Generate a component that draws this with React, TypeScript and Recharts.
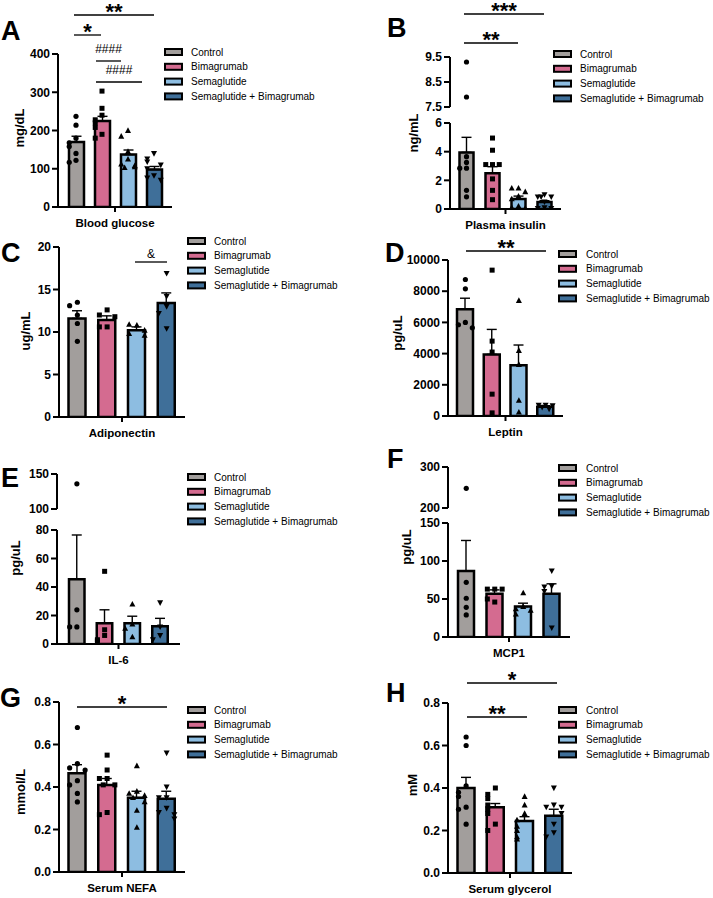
import React from "react";
import { ComposedChart, Bar, Scatter, XAxis, YAxis, ErrorBar, Cell } from "recharts";

const groups = ["Control", "Bimagrumab", "Semaglutide", "Semaglutide + Bimagrumab"];
const colors = ["#a29e9c", "#d46b90", "#8dbde1", "#3f6f99"];

// A - blood glucose (mg/dL)
const glucoseMean = [170, 225, 137, 98];
const glucoseSem = [15, 12, 12, 8];
const glucosePts = [
  [237, 214, 180, 168, 158, 140, 122, 117],
  [303, 258, 240, 228, 220, 208, 190, 180],
  [200, 185, 145, 125, 112, 108, 105, 103],
  [140, 126, 118, 110, 100, 82, 76, 70],
];

// B - plasma insulin (ng/mL)
const insulinMean = [3.95, 2.5, 0.7, 0.48];
const insulinSem = [1.05, 0.45, 0.2, 0.1];
const insulinPts = [
  [9.3, 7.9, 3.65, 3.25, 2.85, 2.85, 1.3, 0.85],
  [4.95, 4.1, 3.1, 3.1, 3.1, 2.1, 1.3, 0.65],
  [1.45, 1.45, 1.2, 0.9, 0.7, 0.2, 0.1, 0.05],
  [1.0, 0.85, 0.85, 0.85, 0.5, 0.1, 0.05, 0.05],
];

// C - adiponectin (ug/mL)
const adipoMean = [11.6, 11.4, 10.2, 13.4];
const adipoSem = [0.9, 0.5, 0.4, 1.2];
const adipoPts = [
  [13.5, 13.1, 12.0, 11.0, 8.9],
  [12.6, 12.0, 11.8, 10.6, 10.6],
  [10.8, 10.9, 10.2, 9.8, 9.6],
  [16.9, 14.2, 13.0, 12.2, 10.4],
];

// D - leptin (pg/uL)
const leptinMean = [6850, 3950, 3250, 600];
const leptinSem = [700, 1600, 1300, 60];
const leptinPts = [
  [8750, 8150, 6000, 5850, 5650],
  [9350, 4800, 4100, 1400, 200],
  [7400, 4200, 3300, 1000, 250],
  [700, 690, 660, 560, 450],
];

// E - IL-6 (pg/uL)
const il6Mean = [45.5, 14.5, 14.5, 12.5];
const il6Sem = [31, 9.5, 5, 5.5];
const il6Pts = [
  [136, 24, 12, 12],
  [51, 10, 6, 3, 2],
  [28, 14, 11, 5],
  [29, 12, 6, 3],
];

// F - MCP1 (pg/uL)
const mcpMean = [87, 57, 40, 57];
const mcpSem = [40, 5, 4.5, 13];
const mcpPts = [
  [248, 72, 51, 39, 29],
  [63, 63, 63, 46, 50],
  [58, 40, 37, 35, 30],
  [87, 67, 66, 60, 12],
];

// G - serum NEFA (mmol/L)
const nefaMean = [0.465, 0.41, 0.35, 0.345];
const nefaSem = [0.04, 0.03, 0.03, 0.035];
const nefaPts = [
  [0.68, 0.51, 0.49, 0.48, 0.43, 0.41, 0.37, 0.33],
  [0.55, 0.48, 0.44, 0.44, 0.41, 0.41, 0.28, 0.27],
  [0.5, 0.38, 0.37, 0.36, 0.35, 0.33, 0.29, 0.21],
  [0.56, 0.4, 0.35, 0.35, 0.3, 0.28, 0.27, 0.25],
];

// H - serum glycerol (mM)
const glyMean = [0.4, 0.31, 0.245, 0.27];
const glySem = [0.05, 0.017, 0.02, 0.03];
const glyPts = [
  [0.64, 0.6, 0.41, 0.38, 0.36, 0.31, 0.3, 0.23],
  [0.4, 0.37, 0.35, 0.32, 0.3, 0.28, 0.23, 0.2],
  [0.36, 0.32, 0.28, 0.25, 0.22, 0.2, 0.17, 0.16],
  [0.4, 0.32, 0.31, 0.31, 0.28, 0.23, 0.19, 0.17],
];

const FONT = '"Liberation Sans", Arial, Helvetica, sans-serif';
const OFFS = [0, -0.26, 0.26, -0.13, 0.13, -0.36, 0.36];

function spread(pts: number[][], domain: number[]) {
  const tol = (domain[1] - domain[0]) * 0.045;
  const out: any[] = [];
  pts.forEach((list, g) => {
    const placed: number[] = [];
    list.forEach((v) => {
      if (v < domain[0] || v > domain[1]) return;
      const near = placed.filter((p) => Math.abs(p - v) < tol).length;
      placed.push(v);
      out.push({ x: g + 0.5 + OFFS[near % OFFS.length], y: v, g });
    });
  });
  return out;
}

function Marker(props: any) {
  const { cx, cy, payload } = props;
  if (cx == null || cy == null) return null;
  const g = payload.g;
  if (g === 0) return <circle cx={cx} cy={cy} r={2.6} fill="#000" />;
  if (g === 1) return <rect x={cx - 2.5} y={cy - 2.5} width={5} height={5} fill="#000" />;
  if (g === 2)
    return <polygon points={`${cx},${cy - 3.2} ${cx - 3},${cy + 2.4} ${cx + 3},${cy + 2.4}`} fill="#000" />;
  return <polygon points={`${cx},${cy + 3.2} ${cx - 3},${cy - 2.4} ${cx + 3},${cy - 2.4}`} fill="#000" />;
}

type SegProps = {
  x0: number;
  x1: number;
  yTop: number;
  yBot: number;
  domain: number[];
  ticks: number[];
  fmt?: (v: number) => string;
  means?: number[];
  sems?: number[];
  pts: number[][];
  pad: number;
  barSize?: number;
  label?: string;
};

function Segment({ x0, x1, yTop, yBot, domain, ticks, fmt, means, sems, pts, pad, barSize, label }: SegProps) {
  const YW = 46, MT = 8, MR = 6, XH = 30;
  const showBars = !!means;
  const W = YW + (x1 - x0) + MR;
  const H = MT + (yBot - yTop) + (showBars ? XH : 6);
  const data = groups.map((name, i) => ({
    name,
    mean: means ? means[i] : 0,
    err: [0, sems ? sems[i] : 0],
  }));
  const points = spread(pts, domain);
  return (
    <div style={{ position: "absolute", left: x0 - YW, top: yTop - MT }}>
      <ComposedChart
        width={W}
        height={H}
        data={data}
        margin={{ top: MT, right: MR, bottom: showBars ? 0 : 6, left: 0 }}
      >
        <XAxis
          xAxisId="pts"
          type="number"
          dataKey="x"
          domain={[0, 4]}
          allowDataOverflow
          hide={!showBars}
          ticks={[2]}
          interval={0}
          height={XH}
          padding={{ left: pad, right: pad }}
          axisLine={{ stroke: "#000", strokeWidth: 2 }}
          tickLine={{ stroke: "#000", strokeWidth: 2 }}
          tickSize={5}
          tick={(p: any) => (
            <text
              x={p.x}
              y={p.y + 13}
              textAnchor="middle"
              fontFamily={FONT}
              fontWeight="bold"
              fontSize={11.5}
              fill="#000"
            >
              {label}
            </text>
          )}
        />
        <XAxis xAxisId="cat" dataKey="name" type="category" orientation="top" height={0} hide padding={{ left: pad, right: pad }} />
        <YAxis
          type="number"
          domain={domain}
          ticks={ticks}
          interval={0}
          allowDataOverflow
          width={YW}
          tickFormatter={fmt}
          axisLine={{ stroke: "#000", strokeWidth: 2 }}
          tickLine={{ stroke: "#000", strokeWidth: 2 }}
          tickSize={6}
          tickMargin={2}
          tick={{ fill: "#000", fontSize: 12, fontWeight: "bold", fontFamily: FONT }}
        />
        {showBars && (
          <Bar
            xAxisId="cat"
            dataKey="mean"
            barSize={barSize}
            stroke="#000"
            strokeWidth={2.5}
            isAnimationActive={false}
          >
            {colors.map((c, i) => (
              <Cell key={i} fill={c} />
            ))}
            <ErrorBar dataKey="err" width={5} stroke="#000" strokeWidth={1.4} direction="y" />
          </Bar>
        )}
        <Scatter xAxisId="pts" data={points} dataKey="y" shape={Marker} isAnimationActive={false} />
      </ComposedChart>
    </div>
  );
}

const f1 = (v: number) => v.toFixed(1);

function Legend({ x, y, tx }: { x: number; y: number; tx: number }) {
  return (
    <g>
      {groups.map((g, i) => (
        <g key={g}>
          <rect x={x} y={y + i * 14.8 - 3} width={17} height={6} fill={colors[i]} stroke="#000" strokeWidth={2} />
          <text x={tx} y={y + i * 14.8 + 3.6} fontFamily={FONT} fontSize={10} fill="#000">
            {g}
          </text>
        </g>
      ))}
    </g>
  );
}

function Sig({ x1, x2, y, text, kind }: { x1: number; x2: number; y: number; text: string; kind: string }) {
  const cx = (x1 + x2) / 2;
  const star = kind === "star";
  return (
    <g>
      <line x1={x1} x2={x2} y1={y} y2={y} stroke="#000" strokeWidth={1.3} />
      <text
        x={cx}
        y={star ? y + 4 : y - (kind === "amp" ? 4 : 8)}
        textAnchor="middle"
        fontFamily={FONT}
        fontWeight={star ? "bold" : "normal"}
        fontSize={star ? 22 : 12}
        fill="#000"
      >
        {text}
      </text>
    </g>
  );
}

function Letter({ x, y, t }: { x: number; y: number; t: string }) {
  return (
    <text x={x} y={y} fontFamily={FONT} fontWeight="bold" fontSize={27} fill="#000">
      {t}
    </text>
  );
}

function YLabel({ x, y, t }: { x: number; y: number; t: string }) {
  return (
    <text
      x={x}
      y={y}
      transform={`rotate(-90 ${x} ${y})`}
      textAnchor="middle"
      dominantBaseline="central"
      fontFamily={FONT}
      fontWeight="bold"
      fontSize={13}
      fill="#000"
    >
      {t}
    </text>
  );
}

export default function App() {
  return (
    <div style={{ position: "absolute", left: 0, top: 0, width: 713, height: 898, background: "#fff", overflow: "hidden" }}>
      {/* A */}
      <Segment x0={58} x1={172} yTop={54} yBot={207} domain={[0, 400]} ticks={[0, 100, 200, 300, 400]}
        means={glucoseMean} sems={glucoseSem} pts={glucosePts} pad={5} barSize={15} label="Blood glucose" />
      {/* B */}
      <Segment x0={450} x1={561} yTop={57} yBot={107} domain={[7.5, 9.5]} ticks={[7.5, 8.5, 9.5]} fmt={f1}
        pts={insulinPts} pad={3.5} />
      <Segment x0={450} x1={561} yTop={123} yBot={209} domain={[0, 6]} ticks={[0, 2, 4, 6]}
        means={insulinMean} sems={insulinSem} pts={insulinPts} pad={3.5} barSize={14} label="Plasma insulin" />
      {/* C */}
      <Segment x0={59} x1={185} yTop={247} yBot={417} domain={[0, 20]} ticks={[0, 5, 10, 15, 20]}
        means={adipoMean} sems={adipoSem} pts={adipoPts} pad={3.5} barSize={17} label="Adiponectin" />
      {/* D */}
      <Segment x0={448} x1={563} yTop={260} yBot={416} domain={[0, 10000]} ticks={[0, 2000, 4000, 6000, 8000, 10000]}
        means={leptinMean} sems={leptinSem} pts={leptinPts} pad={4} barSize={16} label="Leptin" />
      {/* E */}
      <Segment x0={57} x1={180} yTop={474} yBot={509} domain={[100, 150]} ticks={[100, 150]}
        pts={il6Pts} pad={6} />
      <Segment x0={57} x1={180} yTop={530} yBot={644} domain={[0, 80]} ticks={[0, 20, 40, 60, 80]}
        means={il6Mean} sems={il6Sem} pts={il6Pts} pad={6} barSize={15.5} label="IL-6" />
      {/* F */}
      <Segment x0={448} x1={570} yTop={467} yBot={508} domain={[200, 300]} ticks={[200, 300]}
        pts={mcpPts} pad={4} />
      <Segment x0={448} x1={570} yTop={523} yBot={637} domain={[0, 150]} ticks={[0, 50, 100, 150]}
        means={mcpMean} sems={mcpSem} pts={mcpPts} pad={4} barSize={16} label="MCP1" />
      {/* G */}
      <Segment x0={59} x1={185} yTop={702} yBot={872} domain={[0, 0.8]} ticks={[0, 0.2, 0.4, 0.6, 0.8]} fmt={f1}
        means={nefaMean} sems={nefaSem} pts={nefaPts} pad={3.5} barSize={17} label="Serum NEFA" />
      {/* H */}
      <Segment x0={448} x1={572} yTop={703} yBot={873} domain={[0, 0.8]} ticks={[0, 0.2, 0.4, 0.6, 0.8]} fmt={f1}
        means={glyMean} sems={glySem} pts={glyPts} pad={3.5} barSize={17} label="Serum glycerol" />

      <svg width={713} height={898} style={{ position: "absolute", left: 0, top: 0, pointerEvents: "none" }}>
        <Letter x={1} y={40} t="A" />
        <Letter x={387} y={37} t="B" />
        <Letter x={1} y={262} t="C" />
        <Letter x={385} y={262} t="D" />
        <Letter x={1} y={487} t="E" />
        <Letter x={387} y={468} t="F" />
        <Letter x={0} y={707} t="G" />
        <Letter x={386} y={702} t="H" />

        <YLabel x={19} y={128} t="mg/dL" />
        <YLabel x={413} y={133} t="ng/mL" />
        <YLabel x={25} y={331} t="ug/mL" />
        <YLabel x={397} y={333} t="pg/uL" />
        <YLabel x={15} y={558} t="pg/uL" />
        <YLabel x={406} y={547} t="pg/uL" />
        <YLabel x={20} y={792} t="mmol/L" />
        <YLabel x={412} y={785} t="mM" />

        <Legend x={165} y={52} tx={191} />
        <Legend x={554} y={54} tx={580} />
        <Legend x={188} y={241} tx={214} />
        <Legend x={559} y={254} tx={586} />
        <Legend x={188} y={477} tx={214} />
        <Legend x={559} y={468} tx={586} />
        <Legend x={188} y={710} tx={214} />
        <Legend x={559} y={710} tx={586} />

        <Sig x1={74} x2={154} y={15} text="**" kind="star" />
        <Sig x1={74} x2={101} y={35} text="*" kind="star" />
        <Sig x1={96} x2={121} y={61} text="####" kind="hash" />
        <Sig x1={96} x2={142} y={82} text="####" kind="hash" />
        <Sig x1={464} x2={544} y={14} text="***" kind="star" />
        <Sig x1={464} x2={518} y={43} text="**" kind="star" />
        <Sig x1={135} x2={167} y={262} text="&" kind="amp" />
        <Sig x1={466} x2={546} y={251} text="**" kind="star" />
        <Sig x1={77} x2={167} y={707} text="*" kind="star" />
        <Sig x1={467} x2={557} y={683} text="*" kind="star" />
        <Sig x1={467} x2={527} y={717} text="**" kind="star" />
      </svg>
    </div>
  );
}
